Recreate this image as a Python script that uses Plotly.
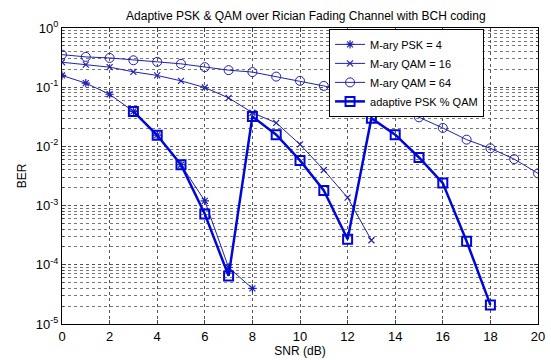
import plotly.graph_objects as go

snr_psk = [0, 1, 2, 3, 4, 5, 6, 7, 8]
ber_psk4 = [0.158, 0.117, 0.076, 0.039, 0.0155, 0.0049, 0.0012, 9e-5, 4e-5]

snr_qam16 = [0, 1, 2, 3, 4, 5, 6, 7, 8, 9, 10, 11, 12, 13]
ber_qam16 = [0.264, 0.24, 0.218, 0.182, 0.158, 0.128, 0.0987, 0.066, 0.037,
             0.025, 0.0108, 0.0040, 0.00136, 0.00026]

snr_qam64 = list(range(0, 21))
ber_qam64 = [0.355, 0.325, 0.312, 0.285, 0.268, 0.248, 0.218, 0.194, 0.18,
             0.151, 0.128, 0.105, 0.084, 0.063, 0.048, 0.031, 0.0205, 0.013,
             0.0093, 0.0061, 0.0035]

snr_adapt = [3, 4, 5, 6, 7, 8, 9, 10, 11, 12, 13, 14, 15, 16, 17, 18]
ber_adapt = [0.039, 0.0154, 0.0049, 7.2e-4, 6.5e-5, 0.032, 0.0158, 0.0058,
             0.0018, 2.7e-4, 0.030, 0.0158, 0.0065, 0.0024, 2.5e-4, 2.1e-5]

ytick_vals = [1e-5, 1e-4, 1e-3, 1e-2, 1e-1, 1]
ytick_text = ["10<sup>-5</sup>", "10<sup>-4</sup>", "10<sup>-3</sup>",
              "10<sup>-2</sup>", "10<sup>-1</sup>", "10<sup>0</sup>"]
xtick_vals = [0, 2, 4, 6, 8, 10, 12, 14, 16, 18, 20]

thin = "#2020b0"
thick = "#0008d8"

fig = go.Figure()
fig.add_trace(go.Scatter(x=snr_psk, y=ber_psk4, mode="lines+markers",
                         name="M-ary PSK = 4",
                         line=dict(color=thin, width=1),
                         marker=dict(symbol="asterisk-open", size=7,
                                     line=dict(color=thin, width=1.2))))
fig.add_trace(go.Scatter(x=snr_qam16, y=ber_qam16, mode="lines+markers",
                         name="M-ary QAM = 16",
                         line=dict(color=thin, width=1),
                         marker=dict(symbol="x-thin-open", size=6,
                                     line=dict(color=thin, width=1.2))))
fig.add_trace(go.Scatter(x=snr_qam64, y=ber_qam64, mode="lines+markers",
                         name="M-ary QAM = 64",
                         line=dict(color=thin, width=1),
                         marker=dict(symbol="circle-open", size=9,
                                     line=dict(color=thin, width=1))))
fig.add_trace(go.Scatter(x=snr_adapt, y=ber_adapt, mode="lines+markers",
                         name="adaptive PSK % QAM",
                         line=dict(color=thick, width=2.5),
                         marker=dict(symbol="square-open", size=9,
                                     line=dict(color=thick, width=2))))

grid_col = "#555555"
fig.update_layout(
    width=551, height=360,
    margin=dict(l=62, r=6, t=28, b=32),
    paper_bgcolor="white", plot_bgcolor="white",
    font=dict(family="Liberation Sans, Arial, sans-serif", size=13, color="black"),
    title=dict(text="Adaptive PSK & QAM over Rician Fading Channel with BCH coding",
               x=0.555, xanchor="center", y=0.955, yanchor="middle",
               font=dict(size=12)),
    showlegend=True,
    legend=dict(x=0.561, y=0.997, xanchor="left", yanchor="top",
                bgcolor="white", bordercolor="black", borderwidth=1,
                font=dict(size=11), tracegroupgap=0, itemwidth=30),
    xaxis=dict(range=[0, 20], tickvals=xtick_vals, ticks="inside", ticklen=4,
               ticklabeloverflow="allow",
               showline=True, linecolor="black", linewidth=1, mirror="allticks",
               showgrid=True, gridcolor=grid_col, griddash="dot", gridwidth=1,
               zeroline=False, title=dict(text="SNR (dB)", standoff=2,
                                          font=dict(size=12))),
    yaxis=dict(type="log", range=[-5, 0], tickvals=ytick_vals, ticktext=ytick_text,
               ticks="inside", ticklen=4,
               showline=True, linecolor="black", linewidth=1, mirror="allticks",
               showgrid=True, gridcolor=grid_col, griddash="dot", gridwidth=1,
               minor=dict(dtick="D1", showgrid=True, gridcolor="#777777",
                          griddash="dot", ticks="inside", ticklen=2),
               zeroline=False, title=dict(text="BER", standoff=6,
                                          font=dict(size=12))),
)

fig.write_html("out.html")
